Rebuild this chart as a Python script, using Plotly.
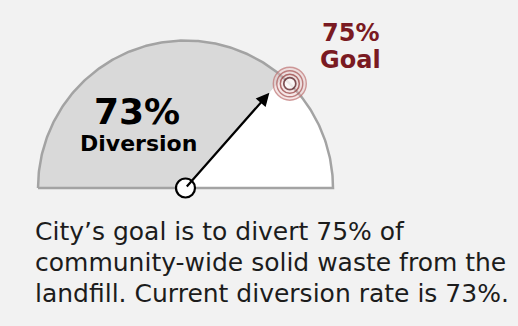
import numpy as np
import plotly.graph_objects as go

# ---- data ----
diversion_pct = 73
goal_pct = 75
big_value_label = "73%"
big_value_caption = "Diversion"
goal_value_label = "75%"
goal_caption = "Goal"
body_lines = [
    "City’s goal is to divert 75% of",
    "community-wide solid waste from the",
    "landfill. Current diversion rate is 73%.",
]

W, H = 518, 326
CX, CY, R = 185.5, 188.0, 147.5  # gauge centre / radius in pixels

BG = "#f2f2f2"
GRAY = "#d9d9d9"
EDGE = "#a3a3a3"
RED = "#7a1a22"


def pct_to_angle(p):
    return np.pi * (1 - p / 100.0)


fig = go.Figure()

# grey (achieved) wedge
a = np.linspace(np.pi, pct_to_angle(diversion_pct), 120)
xs = np.concatenate([[0], np.cos(a), [0]])
ys = np.concatenate([[0], np.sin(a), [0]])
fig.add_trace(go.Scatter(x=xs, y=ys, fill="toself", fillcolor=GRAY, mode="lines",
                         line=dict(width=0), hoverinfo="skip", showlegend=False))
# white (remaining) wedge
a2 = np.linspace(pct_to_angle(diversion_pct), 0, 120)
xs2 = np.concatenate([[0], np.cos(a2), [0]])
ys2 = np.concatenate([[0], np.sin(a2), [0]])
fig.add_trace(go.Scatter(x=xs2, y=ys2, fill="toself", fillcolor="white", mode="lines",
                         line=dict(width=0), hoverinfo="skip", showlegend=False))
# outline of semicircle
a3 = np.linspace(np.pi, 0, 240)
xs3 = np.concatenate([np.cos(a3), [-1]])
ys3 = np.concatenate([np.sin(a3), [0]])
fig.add_trace(go.Scatter(x=xs3, y=ys3, mode="lines", line=dict(color=EDGE, width=2.5),
                         hoverinfo="skip", showlegend=False))

# arrow from centre toward the diversion value
ang = pct_to_angle(diversion_pct)
tip_r = 0.86
fig.add_annotation(x=tip_r * np.cos(ang), y=tip_r * np.sin(ang), ax=0, ay=0,
                   xref="x", yref="y", axref="x", ayref="y", text="",
                   showarrow=True, arrowhead=2, arrowsize=1.2, arrowwidth=2.2,
                   arrowcolor="black")

# goal target rings
g = pct_to_angle(goal_pct)
gx, gy = np.cos(g), np.sin(g)
fig.add_trace(go.Scatter(
    x=[gx] * 5, y=[gy] * 5, mode="markers", hoverinfo="skip", showlegend=False,
    marker=dict(size=[33, 33, 26, 19, 12],
                color=["rgba(232,195,195,0.6)", "rgba(0,0,0,0)", "rgba(0,0,0,0)",
                       "rgba(0,0,0,0)", "white"],
                line=dict(width=[0, 1.4, 1.4, 1.5, 1.7],
                          color=["rgba(0,0,0,0)", "#bf7575", "#a85454",
                                 "#923838", "#4d1218"]))))

# centre pivot
fig.add_trace(go.Scatter(x=[0], y=[0.0], mode="markers", hoverinfo="skip", showlegend=False,
                         marker=dict(size=19, color="white", line=dict(width=2.2, color="black"))))


def px(x):
    return x / W


def py(y):
    return 1 - y / H


def label(x, y, text, size, color, anchor="center"):
    fig.add_annotation(x=px(x), y=py(y), xref="paper", yref="paper", text=text,
                       xanchor=anchor, yanchor="middle", showarrow=False,
                       font=dict(family="DejaVu Sans", size=size, color=color))


label(137, 111, f"<b>{big_value_label}</b>", 36, "black")
label(138, 143, f"<b>{big_value_caption}</b>", 22, "black")
label(350, 33, f"<b>{goal_value_label}</b>", 24, RED)
label(350, 60, f"<b>{goal_caption}</b>", 24, RED)

for i, line in enumerate(body_lines):
    label(33, 231 + i * 31, line, 25, "#1c1c1c", anchor="left")

fig.update_xaxes(visible=False, range=[-CX / R, (W - CX) / R], fixedrange=True)
fig.update_yaxes(visible=False, range=[-(H - CY) / R, CY / R], fixedrange=True)
fig.update_layout(width=W, height=H, margin=dict(l=0, r=0, t=0, b=0),
                  paper_bgcolor=BG, plot_bgcolor=BG)

fig.write_html("out.html")
